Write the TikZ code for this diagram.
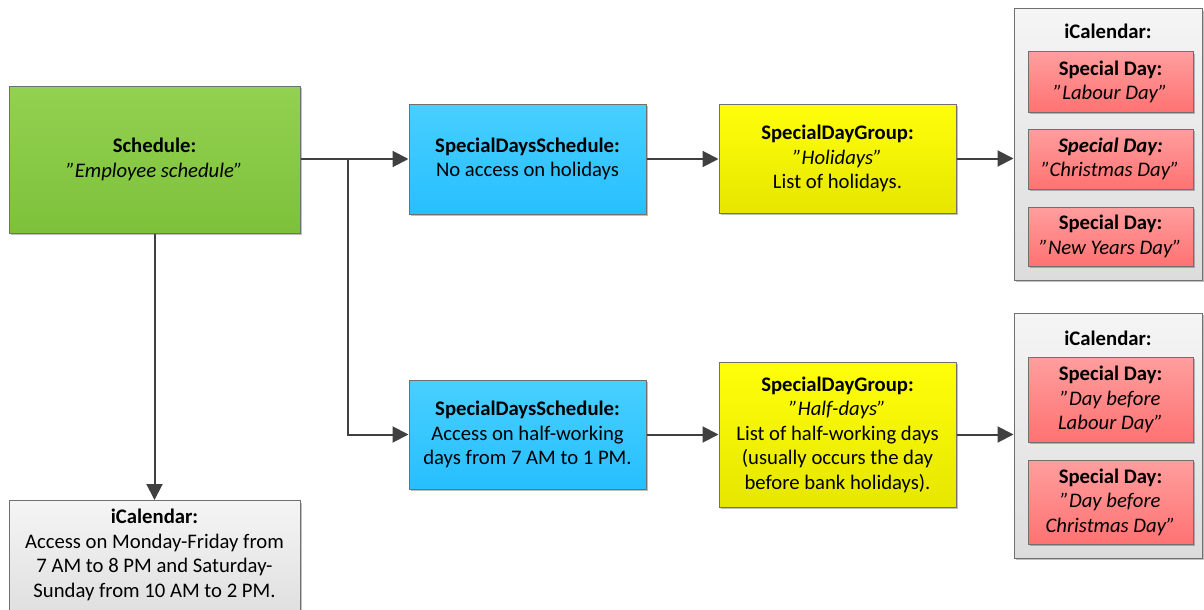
\documentclass[tikz,border=0pt]{standalone}
\usepackage{fontspec}
\setmainfont{Carlito}
\usetikzlibrary{arrows.meta,shadows}
\definecolor{greenTop}{HTML}{93D151}
\definecolor{greenBot}{HTML}{7DC13A}
\definecolor{blueTop}{HTML}{48CFFF}
\definecolor{blueBot}{HTML}{27BFFF}
\definecolor{yelTop}{HTML}{FFFF0A}
\definecolor{yelBot}{HTML}{E6E600}
\definecolor{redTop}{HTML}{FF9E9E}
\definecolor{redBot}{HTML}{FF7272}
\definecolor{grayTop}{HTML}{F5F5F5}
\definecolor{grayBot}{HTML}{DCDCDC}
\definecolor{edge}{HTML}{707070}
\definecolor{wire}{HTML}{404040}
\tikzset{
  box/.style={draw=edge, line width=1pt, inner sep=0pt, align=center,
    font=\fontsize{20.7}{24.5}\selectfont,
    drop shadow={shadow xshift=2pt, shadow yshift=-2pt, opacity=0.25, fill=black}},
  schedbox/.style={box, top color=greenTop, bottom color=greenBot},
  sdsbox/.style={box, top color=blueTop, bottom color=blueBot, minimum width=237},
  groupbox/.style={box, top color=yelTop, bottom color=yelBot, minimum width=237},
  calbox/.style={box, top color=grayTop, bottom color=grayBot, minimum width=188},
  daybox/.style={box, top color=redTop, bottom color=redBot, minimum width=165},
  caption/.style={inner sep=0pt, align=center, font=\fontsize{20.7}{24.5}\selectfont},
  arr/.style={draw=wire, line width=2pt, -{Triangle[length=16pt,width=16pt]}},
}
\begin{document}
\begin{tikzpicture}[x=1pt,y=-1pt]
\useasboundingbox (0,0) rectangle (1204,610);

% main schedule
\node[schedbox, minimum width=291, minimum height=147] (sched) at (154.5,159.5)
  {\textbf{Schedule:}\\\textit{”Employee schedule”}};

% special days schedules
\node[sdsbox, minimum height=110] (sds1) at (527.5,159)
  {\textbf{SpecialDaysSchedule:}\\No access on holidays};
\node[sdsbox, minimum height=109] (sds2) at (527.5,434.5)
  {\textbf{SpecialDaysSchedule:}\\Access on half-working\\days from 7 AM to 1 PM.};

% special day groups
\node[groupbox, minimum height=109] (sdg1) at (837.5,158.5)
  {\textbf{SpecialDayGroup:}\\\textit{”Holidays”}\\List of holidays.};
\node[groupbox, minimum height=145] (sdg2) at (837.5,434.5)
  {\textbf{SpecialDayGroup:}\\\textit{”Half-days”}\\List of half-working days\\(usually occurs the day\\before bank holidays).};

% holiday calendar
\node[calbox, minimum height=271] (cal1) at (1108,144.5) {};
\node[caption] (cal1t) at (1108,31) {\textbf{iCalendar:}};
\node[daybox, minimum height=60] (d1) at (1110.5,82)
  {\textbf{Special Day:}\\\textit{”Labour Day”}};
\node[daybox, minimum height=60] (d2) at (1110.5,159)
  {\textbf{\textit{Special Day:}}\\\textit{”Christmas Day”}};
\node[daybox, minimum height=59] (d3) at (1110.5,236.5)
  {\textbf{Special Day:}\\\textit{”New Years Day”}};

% half-day calendar
\node[calbox, minimum height=245] (cal2) at (1108,435.5) {};
\node[caption] (cal2t) at (1108,338) {\textbf{iCalendar:}};
\node[daybox, minimum height=85] (d4) at (1110.5,399.5)
  {\textbf{Special Day:}\\\textit{”Day before}\\\textit{Labour Day”}};
\node[daybox, minimum height=84] (d5) at (1110.5,502)
  {\textbf{Special Day:}\\\textit{”Day before}\\\textit{Christmas Day”}};

% weekly calendar
\node[calbox, minimum width=291, minimum height=130, anchor=north] (cal0) at (154.5,500) {};
\node[caption, anchor=north] (cal0t) at (154.5,509)
  {\textbf{iCalendar:}\\Access on Monday-Friday from\\7 AM to 8 PM and Saturday-\\Sunday from 10 AM to 2 PM.};

% connectors
\coordinate (fork) at (348,159);
\draw[arr] (sched.east |- sds1.west) -- (sds1.west);
\draw[arr] (fork) |- (sds2.west);
\draw[arr] (sds1.east) -- (sds1.east -| sdg1.west);
\draw[arr] (sds2.east) -- (sdg2.west);
\draw[arr] (sdg1.east) -- (sdg1.east -| cal1.west);
\draw[arr] (sdg2.east) -- (sdg2.east -| cal2.west);
\draw[arr] (sched.south) -- (cal0.north);
\end{tikzpicture}
\end{document}
